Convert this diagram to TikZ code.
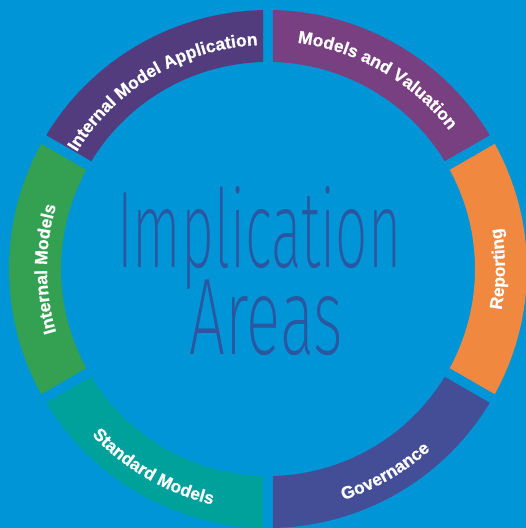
\documentclass[tikz,border=0pt]{standalone}
\usepackage{fontspec}
\usetikzlibrary{decorations.text}
\newfontfamily\lblfont{Liberation Sans}[BoldFeatures={FakeBold=0.6}]
\def\chosen{none}
\def\nonemark{none}
\def\trythin#1{\ifx\chosen\nonemark\IfFontExistsTF{#1}{\newfontfamily\bigfont{#1}\gdef\chosen{#1}}{}\fi}
\trythin{Fira Sans ExtraLight}
\trythin{Fira Sans Light}
\trythin{Fira Sans}
\definecolor{bg}{HTML}{0095D6}
\definecolor{ctext}{HTML}{2A57A0}
\definecolor{cima}{HTML}{523C7D}
\definecolor{cmv}{HTML}{784080}
\definecolor{crep}{HTML}{F08840}
\definecolor{cgov}{HTML}{444E96}
\definecolor{csm}{HTML}{00A09B}
\definecolor{cim}{HTML}{34A152}
\tikzset{
  lbl/.style={decorate, decoration={text along path, text align=center, text color=white,
      text={|\lblfont\bfseries\fontsize{17.5}{20}\selectfont|#1}}},
  bigtxt/.style={anchor=base west, inner sep=0pt, text=ctext}
}
\begin{document}
\begin{tikzpicture}[x=1pt,y=1pt]
\useasboundingbox (0,0) rectangle (526,528);
\clip (0,0) rectangle (526,528);
\fill[bg] (0,0) rectangle (526,528);
\coordinate (C) at (268,259);
\foreach \a/\c in {0/crep,60/cmv,120/cima,180/cim,240/csm,300/cgov}{
  \fill[\c] ([shift={({\a-28.894}:259pt)}]C)
     arc[start angle={\a-28.894}, end angle={\a+28.894}, radius=259pt]
     -- ([shift={({\a+28.616}:207pt)}]C)
     arc[start angle={\a+28.616}, end angle={\a-28.616}, radius=207pt] -- cycle;
}
% labels
\path[lbl={Internal Model Application}] ([shift={(165.6:224pt)}]C) arc[start angle=165.6, end angle=75.6, radius=224pt];
\path[lbl={Models and Valuation}] ([shift={(105:228pt)}]C) arc[start angle=105, end angle=15, radius=228pt];
\path[lbl={Internal Models}] ([shift={(225:221pt)}]C) arc[start angle=225, end angle=135, radius=221pt];
\path[lbl={Reporting}] ([shift={(-45:237pt)}]C) arc[start angle=-45, end angle=45, radius=237pt];
\path[lbl={Standard Models}] ([shift={(195:242pt)}]C) arc[start angle=195, end angle=285, radius=242pt];
\path[lbl={Governance}] ([shift={(255:243pt)}]C) arc[start angle=255, end angle=345, radius=243pt];
% centre text
\node[bigtxt] (l1) at (117,260) {\resizebox{284pt}{\height}{\fontsize{109}{109}\bigfont Implication}};
\node[bigtxt] (l2) at (189,173) {\resizebox{154pt}{\height}{\fontsize{109}{109}\bigfont Areas}};
\end{tikzpicture}
\end{document}
